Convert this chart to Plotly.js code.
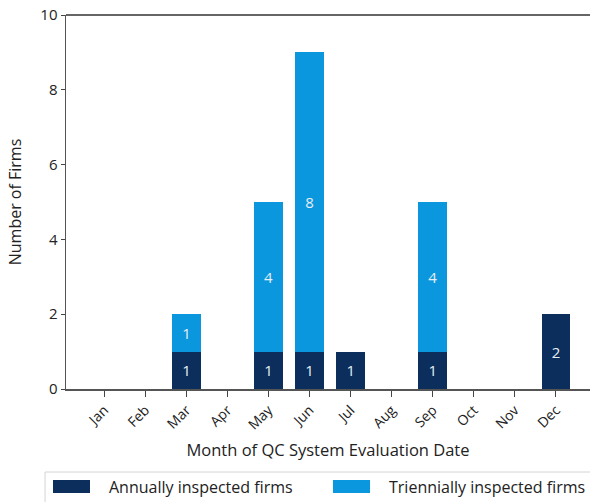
<!DOCTYPE html>
<html>
<head>
<meta charset="utf-8">
<script src="https://cdn.plot.ly/plotly-3.0.1.min.js"></script>
<style>html,body{margin:0;padding:0;background:#fff;overflow:hidden;}#chart{width:590px;height:502px;}</style>
</head>
<body>
<div id="chart"></div>
<script>
const months = ["Jan","Feb","Mar","Apr","May","Jun","Jul","Aug","Sep","Oct","Nov","Dec"];
const annually = [0,0,1,0,1,1,1,0,1,0,0,2];
const triennially = [0,0,1,0,4,8,0,0,4,0,0,0];
const seriesNames = ["Annually inspected firms","Triennially inspected firms"];
const colors = ["#0b2e5c","#0a97dd"];

const idx = months.map((m,i)=>i);
function mk(vals, name, color){
  return {
    type:"bar", x: idx, y: vals.map(v=>v===0?null:v), name: name, showlegend:false,
    marker:{color: color, line:{width:0}}, width:0.7,
    text: vals.map(v=>v===0?"":String(v)), textposition:"inside", insidetextanchor:"middle",
    textfont:{color:"#e8eef4", size:15, family:"Open Sans, sans-serif"},
    hoverinfo:"skip"
  };
}
const data = [mk(annually, seriesNames[0], colors[0]), mk(triennially, seriesNames[1], colors[1])];

// legend box drawn as layout decoration (paper coordinates)
const legendItemX = [[-0.0248, 0.0458, 0.0782], [0.5095, 0.5802, 0.6126]];
const legendShapes = [{type:"rect", xref:"paper", yref:"paper", x0:-0.040, x1:1.02, y0:-0.33, y1:-0.222,
  line:{color:"#d4d4d4", width:1}, fillcolor:"rgba(0,0,0,0)"}];
const legendAnns = [];
seriesNames.forEach((n,i)=>{
  legendShapes.push({type:"rect", xref:"paper", yref:"paper", x0:legendItemX[i][0], x1:legendItemX[i][1],
    y0:-0.2781, y1:-0.2433, line:{width:0}, fillcolor:colors[i]});
  legendAnns.push({xref:"paper", yref:"paper", x:legendItemX[i][2], y:-0.261, xanchor:"left", yanchor:"middle",
    showarrow:false, text:n, font:{size:16, color:"#222"}});
});

const layout = {
  width:590, height:502, barmode:"stack",
  margin:{l:66, r:0, t:15, b:113, autoexpand:false},
  paper_bgcolor:"#fff", plot_bgcolor:"#fff",
  font:{family:"Open Sans, sans-serif", color:"#222", size:15},
  xaxis:{range:[-0.935, 11.83], tickvals: idx, ticktext: months, tickangle:-45, automargin:false,
    ticks:"outside", ticklen:6, tickcolor:"#444", showline:true, linecolor:"#555", linewidth:1.5,
    mirror:false, showgrid:false, zeroline:false, tickfont:{size:14, color:"#222"},
    title:{text:"Month of QC System Evaluation Date", font:{size:16.5, color:"#222"}, standoff:12}},
  yaxis:{range:[0,10], dtick:2, ticks:"outside", ticklen:4, tickcolor:"#444", showline:true, automargin:false,
    linecolor:"#555", linewidth:1.5, mirror:false, showgrid:false, zeroline:false, tickfont:{size:15, color:"#222"},
    title:{text:"Number of Firms", font:{size:16, color:"#222"}, standoff:14}},
  shapes:[{type:"line", xref:"paper", yref:"paper", x0:0, x1:1, y0:1, y1:1, line:{color:"#666", width:2}}].concat(legendShapes),
  annotations: legendAnns,
  showlegend:false
};
Plotly.newPlot("chart", data, layout, {displayModeBar:false, staticPlot:true});
</script>
</body>
</html>
